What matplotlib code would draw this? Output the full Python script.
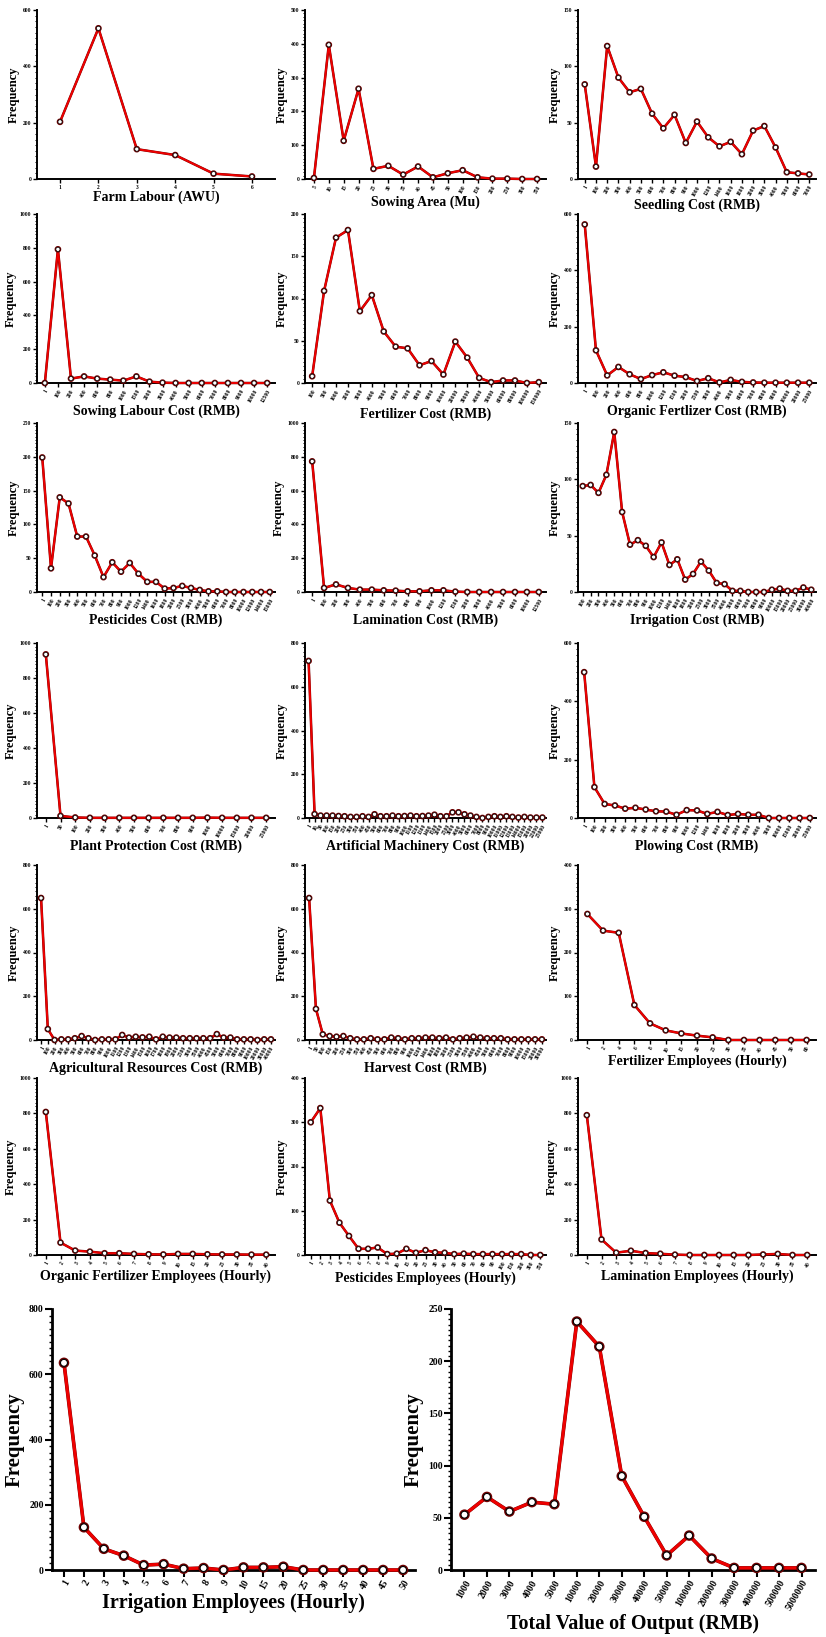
import matplotlib
matplotlib.use("Agg")
import matplotlib.pyplot as plt
import matplotlib.patheffects as pe
from matplotlib.ticker import MultipleLocator, AutoMinorLocator

plt.rcParams['font.family'] = ['Liberation Serif', 'DejaVu Serif']
plt.rcParams['font.weight'] = 'bold'

# ---- data ----
farm_labour_x = ["1", "2", "3", "4", "5", "6"]
farm_labour_y = [203, 535, 106, 85, 19, 9]

sowing_area_x = ["5", "10", "15", "20", "25", "30", "35", "40", "45", "50", "100", "150", "200", "250", "300", "350"]
sowing_area_y = [3, 397, 113, 267, 30, 39, 13, 37, 5, 17, 26, 5, 1, 1, 0, 0]

seedling_x = ["1", "100", "200", "300", "400", "500", "600", "700", "800", "900", "1000", "1200", "1400",
              "1600", "1800", "2000", "3000", "4000", "5000", "6000", "7000"]
seedling_y = [84, 11, 118, 90, 77, 80, 58, 45, 57, 32, 51, 37, 29, 33, 22, 43, 47, 28, 6, 5, 4]

sowing_labour_x = ["1", "100", "200", "400", "600", "800", "1000", "1500", "2000", "3000", "4000", "5000",
                   "6000", "7000", "8000", "9000", "10000", "12500"]
sowing_labour_y = [0, 791, 26, 39, 26, 20, 14, 39, 8, 2, 0, 0, 0, 0, 0, 0, 0, 0]

fertilizer_x = ["100", "500", "1000", "2000", "3000", "4000", "5000", "6000", "7000", "8000", "9000", "10000",
                "20000", "30000", "40000", "50000", "60000", "80000", "100000", "150000"]
fertilizer_y = [8, 109, 172, 181, 85, 104, 61, 43, 41, 21, 26, 10, 49, 30, 6, 1, 3, 3, 0, 1]

org_fert_cost_x = ["1", "100", "200", "400", "600", "800", "1000", "1200", "1500", "2000", "2500", "3000",
                   "4000", "5000", "6000", "7000", "8000", "9000", "10000", "20000", "25000"]
org_fert_cost_y = [563, 116, 27, 57, 31, 14, 28, 38, 26, 21, 7, 17, 2, 11, 4, 2, 1, 1, 1, 1, 1]

pesticides_x = ["1", "100", "200", "300", "400", "500", "600", "700", "800", "900", "1000", "1200", "1400",
                "1600", "1800", "2000", "2500", "3000", "4000", "5000", "6000", "7000", "8000", "10000",
                "12000", "14000", "15000"]
pesticides_y = [199, 35, 140, 131, 82, 82, 54, 22, 44, 30, 43, 27, 15, 15, 5, 6, 9, 6, 3, 1, 1, 0, 0, 0, 0, 0, 0]

lamination_x = ["1", "100", "200", "300", "400", "500", "600", "700", "800", "900", "1000", "1200", "1500",
                "2000", "3000", "4000", "5000", "6000", "10000", "12500"]
lamination_y = [773, 24, 45, 24, 14, 14, 10, 8, 4, 4, 10, 10, 2, 0, 0, 0, 0, 0, 0, 0]

irrigation_x = ["100", "200", "300", "400", "500", "600", "700", "800", "900", "1000", "1200", "1400", "1600",
                "1800", "2000", "2500", "3000", "3500", "4000", "5000", "6000", "7000", "8000", "9000",
                "10000", "15000", "20000", "25000", "30000", "40000"]
irrigation_y = [94, 95, 88, 104, 142, 71, 42, 46, 41, 31, 44, 24, 29, 11, 16, 27, 19, 8, 7, 1, 1, 0, 0, 0,
                2, 3, 1, 1, 4, 2]

plant_prot_x = ["1", "50", "100", "200", "300", "400", "500", "600", "700", "800", "900", "1000", "10000",
                "15000", "20000", "25000"]
plant_prot_y = [935, 12, 3, 1, 1, 1, 1, 1, 1, 1, 1, 2, 1, 1, 1, 1]

art_mach_x = ["1", "10", "50", "100", "150", "200", "250", "300", "350", "400", "450", "500", "600", "700",
              "800", "900", "1000", "1100", "1200", "1300", "1400", "1500", "2000", "2500", "3000", "4000",
              "5000", "6000", "7000", "8000", "9000", "10000", "11000", "12000", "13000", "14000", "15000",
              "20000", "22000", "25000"]
art_mach_y = [718, 18, 11, 11, 11, 9, 8, 5, 5, 8, 5, 17, 8, 8, 11, 8, 9, 11, 8, 9, 11, 15, 8, 8, 26, 26,
              17, 11, 5, 0, 5, 8, 5, 8, 5, 2, 5, 2, 2, 2]

plowing_x = ["1", "100", "200", "300", "400", "500", "600", "700", "800", "900", "1000", "1200", "1400",
             "1600", "1800", "2000", "3000", "4000", "5000", "10000", "15000", "20000", "25000"]
plowing_y = [500, 106, 48, 43, 32, 35, 29, 23, 22, 11, 27, 26, 14, 21, 10, 14, 11, 11, 0, 0, 0, 0, 0]

agri_res_x = ["1", "100", "200", "300", "400", "500", "600", "700", "800", "900", "1000", "1100", "1200",
              "1300", "1400", "1500", "1600", "1700", "1800", "1900", "2000", "2500", "3000", "3500", "4000",
              "4500", "5000", "6000", "7000", "8000", "9000", "10000", "20000", "30000", "40000"]
agri_res_y = [649, 50, 0, 3, 3, 8, 18, 8, 0, 3, 3, 3, 23, 11, 15, 12, 15, 3, 15, 11,
              11, 8, 8, 8, 8, 8, 27, 11, 11, 3, 3, 3, 0, 3, 3]

harvest_x = ["1", "50", "100", "150", "200", "250", "300", "350", "400", "450", "500", "600", "700", "800",
             "900", "1000", "1200", "1400", "1600", "1800", "2000", "2500", "3000", "3500", "4000", "4500",
             "5000", "6000", "7000", "8000", "9000", "10000", "15000", "20000", "30000"]
harvest_y = [649, 142, 26, 18, 15, 18, 8, 3, 3, 8, 3, 3, 11, 8, 3, 8, 8, 11, 11, 8,
             11, 3, 8, 11, 15, 11, 8, 8, 8, 3, 3, 3, 3, 3, 3]

fert_emp_x = ["1", "2", "4", "6", "8", "10", "15", "20", "25", "30", "35", "40", "45", "50", "60"]
fert_emp_y = [288, 250, 245, 80, 38, 22, 15, 10, 6, 0, 0, 0, 0, 0, 0]

org_fert_emp_x = ["1", "2", "3", "4", "5", "6", "7", "8", "9", "10", "15", "20", "25", "30", "35", "40"]
org_fert_emp_y = [808, 70, 25, 19, 10, 10, 6, 4, 3, 6, 6, 4, 3, 3, 2, 2]

pest_emp_x = ["1", "2", "3", "4", "5", "6", "7", "8", "9", "10", "15", "20", "25", "30", "40", "50", "60",
              "70", "80", "90", "100", "150", "200", "300", "350"]
pest_emp_y = [300, 332, 123, 73, 43, 14, 14, 17, 2, 3, 14, 5, 11, 6, 5, 2, 3, 2, 2, 2, 2, 2, 2, 0, 0]

lam_emp_x = ["1", "2", "3", "4", "5", "6", "7", "8", "9", "10", "15", "20", "25", "30", "35", "40"]
lam_emp_y = [790, 88, 13, 24, 11, 7, 2, 0, 0, 0, 0, 0, 3, 6, 0, 0]

irr_emp_x = ["1", "2", "3", "4", "5", "6", "7", "8", "9", "10", "15", "20", "25", "30", "35", "40", "45", "50"]
irr_emp_y = [635, 131, 65, 44, 15, 18, 4, 6, 0, 8, 8, 10, 0, 0, 0, 0, 0, 0]

output_x = ["1000", "2000", "3000", "4000", "5000", "10000", "20000", "30000", "40000", "50000", "100000",
            "200000", "300000", "400000", "500000", "5000000"]
output_y = [53, 70, 56, 65, 63, 238, 214, 90, 51, 14, 33, 11, 2, 2, 2, 2]

# (labels, values, x title, y max, y step)
panels = [
    (farm_labour_x, farm_labour_y, "Farm Labour (AWU)", 600, 200),
    (sowing_area_x, sowing_area_y, "Sowing Area (Mu)", 500, 100),
    (seedling_x, seedling_y, "Seedling Cost (RMB)", 150, 50),
    (sowing_labour_x, sowing_labour_y, "Sowing Labour Cost (RMB)", 1000, 200),
    (fertilizer_x, fertilizer_y, "Fertilizer Cost (RMB)", 200, 50),
    (org_fert_cost_x, org_fert_cost_y, "Organic Fertlizer Cost (RMB)", 600, 200),
    (pesticides_x, pesticides_y, "Pesticides Cost (RMB)", 250, 50),
    (lamination_x, lamination_y, "Lamination Cost (RMB)", 1000, 200),
    (irrigation_x, irrigation_y, "Irrigation Cost (RMB)", 150, 50),
    (plant_prot_x, plant_prot_y, "Plant Protection Cost (RMB)", 1000, 200),
    (art_mach_x, art_mach_y, "Artificial Machinery Cost (RMB)", 800, 200),
    (plowing_x, plowing_y, "Plowing Cost (RMB)", 600, 200),
    (agri_res_x, agri_res_y, "Agricultural Resources Cost (RMB)", 800, 200),
    (harvest_x, harvest_y, "Harvest Cost (RMB)", 800, 200),
    (fert_emp_x, fert_emp_y, "Fertilizer Employees (Hourly)", 400, 100),
    (org_fert_emp_x, org_fert_emp_y, "Organic Fertilizer Employees (Hourly)", 1000, 200),
    (pest_emp_x, pest_emp_y, "Pesticides Employees (Hourly)", 400, 100),
    (lam_emp_x, lam_emp_y, "Lamination Employees (Hourly)", 1000, 200),
]
big_panels = [
    (irr_emp_x, irr_emp_y, "Irrigation Employees (Hourly)", 800, 200),
    (output_x, output_y, "Total Value of Output (RMB)", 250, 50),
]

W, H = 826, 1637
fig = plt.figure(figsize=(W / 100, H / 100), dpi=100)


def add_ax(left, top, right, bottom):
    return fig.add_axes([left / W, 1 - bottom / H, (right - left) / W, (bottom - top) / H])


def draw(ax, labels, values, title, ymax, ystep, big=False, rot=60):
    n = len(labels)
    lw = 2.2 if big else 1.4
    ax.plot(range(n), values, color="#ee0000", lw=lw, marker="o", ms=5.0 if big else 3.0,
            mfc="white", mec="black", mew=0.8 if big else 0.5, clip_on=False, zorder=3,
            path_effects=[pe.Stroke(linewidth=lw + 0.4, foreground="#700000"), pe.Normal()])
    ax.set_xlim(-0.6, n - 0.4)
    ax.set_ylim(0, ymax)
    ax.yaxis.set_major_locator(MultipleLocator(ystep))
    ax.yaxis.set_minor_locator(AutoMinorLocator(10))
    ax.set_xticks(range(n))
    fs_t = 7 if big else 4
    ax.set_xticklabels(labels, rotation=rot, ha="right" if rot else "center",
                       rotation_mode="anchor", fontsize=fs_t, fontweight="bold")
    for t in ax.get_yticklabels():
        t.set_fontsize(fs_t)
        t.set_fontweight("bold")
    for s in ("top", "right"):
        ax.spines[s].set_visible(False)
    for s in ("left", "bottom"):
        ax.spines[s].set_linewidth(2.0 if big else 1.4)
    ax.tick_params(axis="both", which="major", direction="out", length=5 if big else 3,
                   width=1.5 if big else 1.0, pad=1)
    ax.tick_params(axis="y", which="minor", direction="out", length=2.5 if big else 1.5,
                   width=1.0 if big else 0.7)
    ax.set_xlabel(title, fontsize=14.5 if big else 10, fontweight="bold", labelpad=1)
    ax.set_ylabel("Frequency", fontsize=15 if big else 9, fontweight="bold", labelpad=3 if big else 2)


cols = [(37, 275), (305, 546), (578, 816)]
rows = [(10, 179), (214, 383), (423, 592), (643, 818), (865, 1040), (1078, 1255)]

for i, (labels, values, title, ymax, ystep) in enumerate(panels):
    r, c = divmod(i, 3)
    ax = add_ax(cols[c][0], rows[r][0], cols[c][1], rows[r][1])
    draw(ax, labels, values, title, ymax, ystep, rot=0 if i == 0 else 60)

big_cols = [(52, 415), (451, 815)]
for j, (labels, values, title, ymax, ystep) in enumerate(big_panels):
    ax = add_ax(big_cols[j][0], 1309, big_cols[j][1], 1570)
    draw(ax, labels, values, title, ymax, ystep, big=True)

fig.savefig("out.png", dpi=100, facecolor="white")
